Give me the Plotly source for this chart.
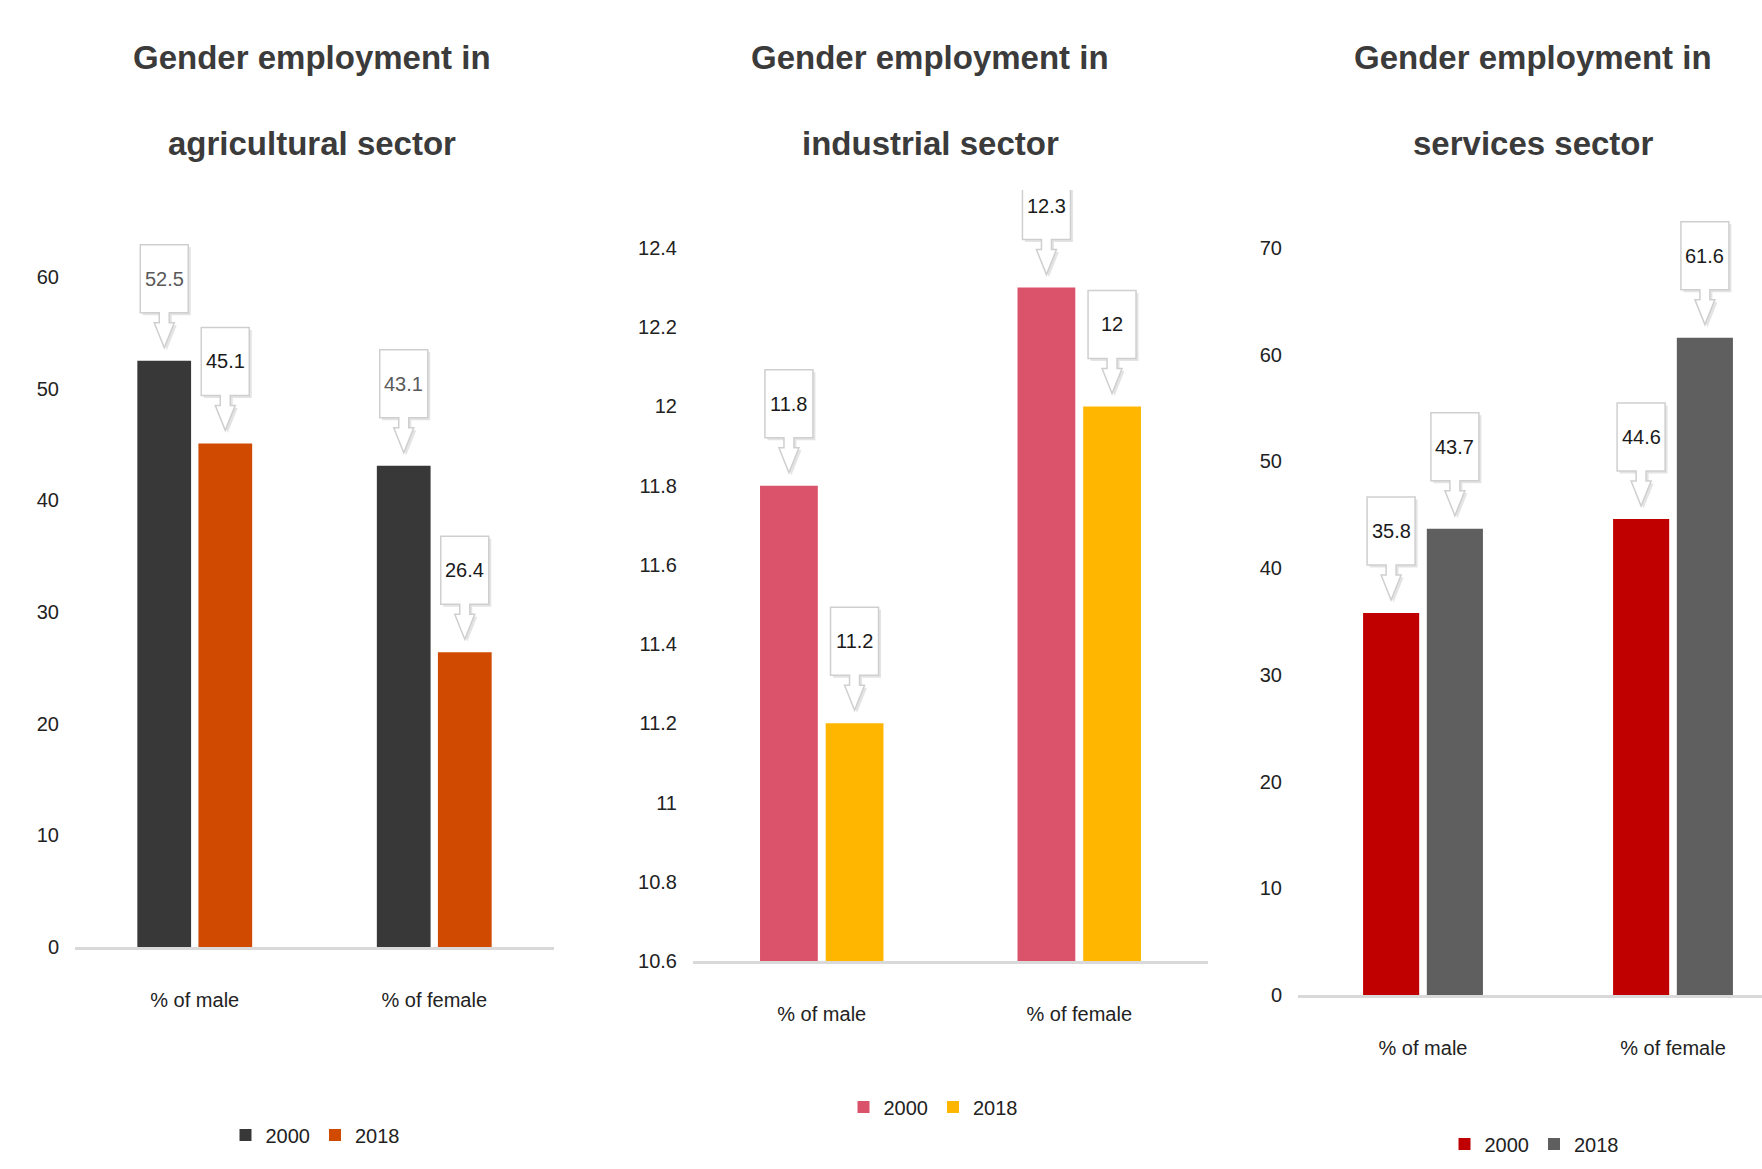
import plotly.graph_objects as go

# ---------------- data ----------------
categories = ["% of male", "% of female"]
years = ["2000", "2018"]

agri_2000 = [52.5, 43.1]
agri_2018 = [45.1, 26.4]

indus_2000 = [11.8, 12.3]
indus_2018 = [11.2, 12.0]

serv_2000 = [35.8, 44.6]
serv_2018 = [43.7, 61.6]

agri_ticks = [0, 10, 20, 30, 40, 50, 60]
agri_ticktext = ["0", "10", "20", "30", "40", "50", "60"]
indus_ticks = [10.6, 10.8, 11.0, 11.2, 11.4, 11.6, 11.8, 12.0, 12.2, 12.4]
indus_ticktext = ["10.6", "10.8", "11", "11.2", "11.4", "11.6", "11.8", "12", "12.2", "12.4"]
serv_ticks = [0, 10, 20, 30, 40, 50, 60, 70]
serv_ticktext = ["0", "10", "20", "30", "40", "50", "60", "70"]

titles = [
    ["Gender employment in", "agricultural sector"],
    ["Gender employment in", "industrial sector"],
    ["Gender employment in", "services sector"],
]

# ---------------- layout / style ----------------
W, H = 1762, 1169
FONT = "Liberation Sans Narrow, Arial Narrow, Liberation Sans, Arial, sans-serif"
BARGAP = 0.49
BARGROUPGAP = 0.12
PLOT_TOP_PX = 190  # plot areas extend up to here so callouts are not clipped

panels = [
    dict(v=[agri_2000, agri_2018], colors=["#383838", "#D04A02"],
         lblcolors=["#5a5a5a", "#1a1a1a"],
         xpx=(75, 554), ypx=(277, 947), xr=[-0.5, 1.5], yr=[0, 60],
         tv=agri_ticks, tt=agri_ticktext, tcx=312, leg=(315, 1135)),
    dict(v=[indus_2000, indus_2018], colors=["#DB536A", "#FFB600"],
         lblcolors=["#1a1a1a", "#1a1a1a"],
         xpx=(693, 1208), ypx=(248, 961), xr=[-0.5, 1.5], yr=[10.6, 12.4],
         tv=indus_ticks, tt=indus_ticktext, tcx=930, leg=(933, 1107)),
    dict(v=[serv_2000, serv_2018], colors=["#C00000", "#5F5F5F"],
         lblcolors=["#1a1a1a", "#1a1a1a"],
         xpx=(1298, 1762), ypx=(248, 995), xr=[-0.5, 1.356], yr=[0, 70],
         tv=serv_ticks, tt=serv_ticktext, tcx=1533, leg=(1534, 1144)),
]

# callout outline (pixels relative to the top centre of a bar, y up)
CALLOUT = [(-24, 116), (24, 116), (24, 48), (5, 48), (5, 38), (10, 38),
           (0, 13), (-10, 38), (-5, 38), (-5, 48), (-24, 48)]

fig = go.Figure()
annotations = []
shapes = []
layout_axes = {}

for p_i, p in enumerate(panels):
    n = p_i + 1
    xa = "x" if n == 1 else f"x{n}"
    ya = "y" if n == 1 else f"y{n}"
    lg = "legend" if n == 1 else f"legend{n}"
    for t_i in range(2):
        fig.add_trace(go.Bar(
            x=categories, y=p["v"][t_i], name=years[t_i],
            marker=dict(color=p["colors"][t_i], line=dict(width=0)),
            xaxis=xa, yaxis=ya, legend=lg, hoverinfo="skip",
        ))

    x0, x1 = p["xpx"]
    ytop, ybot = p["ypx"]
    ymin, ymax = p["yr"]
    px_per_unit = (ybot - ytop) / (ymax - ymin)
    yr_top = ymax + (ytop - PLOT_TOP_PX) / px_per_unit
    layout_axes["xaxis" + ("" if n == 1 else str(n))] = dict(
        domain=[x0 / W, x1 / W], anchor=ya, range=p["xr"], type="category",
        showgrid=False, zeroline=False, showline=True, linecolor="#d9d9d9",
        linewidth=3, ticks="", ticklabelstandoff=33, automargin=False,
        tickfont=dict(family=FONT, size=20, color="#222222"), fixedrange=True,
    )
    layout_axes["yaxis" + ("" if n == 1 else str(n))] = dict(
        domain=[1 - ybot / H, 1 - PLOT_TOP_PX / H], anchor=xa, range=[ymin, yr_top],
        showgrid=False, zeroline=False, showline=False, ticks="", automargin=False,
        tickvals=p["tv"], ticktext=p["tt"], ticklabelstandoff=15,
        tickfont=dict(family=FONT, size=20, color="#222222"), fixedrange=True,
    )
    layout_axes[lg] = dict(
        orientation="h", x=p["leg"][0] / W, y=1 - p["leg"][1] / H,
        xanchor="center", yanchor="middle", bgcolor="rgba(0,0,0,0)",
        font=dict(family=FONT, size=20, color="#222222"),
        itemwidth=30, traceorder="normal", itemclick=False,
    )

    # titles (two lines)
    for l_i, line in enumerate(titles[p_i]):
        annotations.append(dict(
            text=line, x=p["tcx"] / W, y=1 - (57 + 87 * l_i) / H,
            xref="paper", yref="paper", xanchor="center", yanchor="middle",
            showarrow=False,
            font=dict(family=FONT, size=33, color="#3b3b3b", weight="bold"),
        ))

    # callout labels
    spacing_px = (x1 - x0) / (p["xr"][1] - p["xr"][0])
    slot_px = spacing_px * (1 - BARGAP) / 2
    for t_i in range(2):
        dx = (t_i - 0.5) * slot_px
        for c_i, cat in enumerate(categories):
            val = p["v"][t_i][c_i]

            def mk(off_x, off_y):
                return "M " + " L ".join(f"{px + dx + off_x:.1f},{py + off_y:.1f}"
                                         for px, py in CALLOUT) + " Z"
            shapes.append(dict(
                type="path", xref=xa, yref=ya, xsizemode="pixel", ysizemode="pixel",
                xanchor=cat, yanchor=val, path=mk(2.5, -2.5),
                fillcolor="#e4e4e4", line=dict(width=0), layer="above",
            ))
            shapes.append(dict(
                type="path", xref=xa, yref=ya, xsizemode="pixel", ysizemode="pixel",
                xanchor=cat, yanchor=val, path=mk(0, 0),
                fillcolor="#ffffff", line=dict(color="#cfcfcf", width=1.5), layer="above",
            ))
            annotations.append(dict(
                text=f"{val:g}", x=cat, y=val, xref=xa, yref=ya,
                xshift=dx, yshift=82, xanchor="center", yanchor="middle",
                showarrow=False,
                font=dict(family=FONT, size=20, color=p["lblcolors"][t_i]),
            ))

fig.update_layout(
    width=W, height=H, autosize=False,
    margin=dict(l=0, r=0, t=0, b=0, pad=0, autoexpand=False),
    paper_bgcolor="white", plot_bgcolor="rgba(0,0,0,0)",
    barmode="group", bargap=BARGAP, bargroupgap=BARGROUPGAP,
    showlegend=True,
    annotations=annotations, shapes=shapes,
    font=dict(family=FONT, color="#222222"),
    **layout_axes,
)

fig.write_html(
    "out.html",
    config={"displayModeBar": False},
    post_script="document.body.style.margin='0';document.body.style.overflow='hidden';",
)
